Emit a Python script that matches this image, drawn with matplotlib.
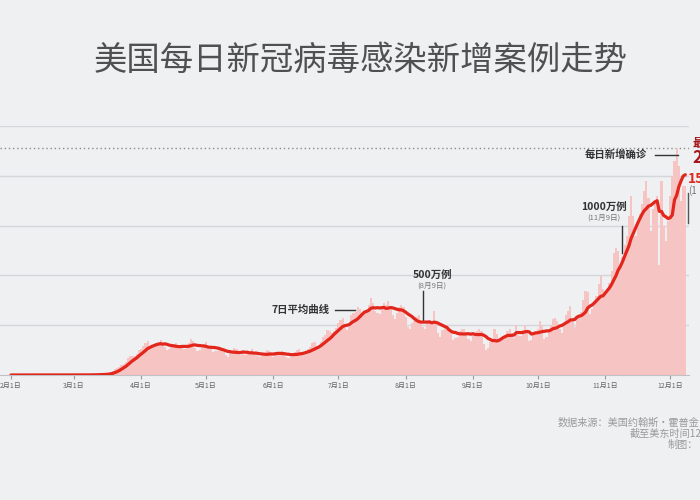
import numpy as np
import pandas as pd
import matplotlib
matplotlib.use("Agg")
import matplotlib.pyplot as plt

plt.rcParams['font.family'] = ['Noto Sans CJK SC', 'DejaVu Sans']

# ---- daily new cases (thousands), 2020-02-01 .. 2020-12-08 ----
feb = [0, 0, 0, 0, 0, 0, 0, 0, 0, 0, 0, 0, 0, 0, 0, 0, 0, 0, 0, 0,
       0, 0, 0, 0, 0, 0, 0, 0, 0]
mar = [0.01, 0.02, 0.02, 0.03, 0.07, 0.08, 0.1, 0.12, 0.2, 0.3, 0.4, 0.5, 0.6,
       0.7, 0.8, 1.0, 1.8, 2.8, 4.5, 6.0, 7.0, 8.5, 10.5, 11.0, 13.5, 17.5,
       19.0, 19.5, 19.0, 21.0, 25.0]
apr = [26, 29, 32, 34, 26, 29, 31, 32, 33, 35, 31, 28, 25, 26, 29, 31, 32, 29,
       27, 27, 26, 29, 32, 36, 34, 27, 24, 25, 27, 31]
may = [33, 29, 26, 23, 24, 24, 28, 27, 25, 20, 18, 22, 21, 27, 26, 24, 20, 22,
       20, 21, 23, 26, 22, 20, 19, 18, 19, 22, 25, 24, 21]
jun = [18, 21, 21, 22, 24, 23, 18, 17, 18, 21, 23, 25, 26, 20, 20, 23, 26, 28,
       32, 33, 28, 27, 33, 38, 40, 45, 44, 42, 44, 47]
jul = [52, 55, 57, 50, 45, 48, 60, 62, 63, 68, 66, 60, 63, 65, 70, 77, 72, 64,
       62, 61, 67, 72, 70, 74, 68, 60, 56, 62, 68, 70, 68]
aug = [58, 48, 46, 52, 54, 58, 60, 54, 48, 46, 52, 55, 52, 64, 53, 42, 38, 45,
       47, 46, 47, 42, 35, 37, 38, 44, 46, 46, 43, 36, 34]
sep = [41, 40, 44, 46, 44, 31, 25, 27, 33, 36, 46, 41, 35, 34, 38, 40, 44, 46,
       42, 37, 50, 40, 39, 45, 50, 45, 34, 35, 43, 44]
oct_ = [46, 54, 49, 36, 38, 43, 50, 56, 57, 54, 46, 42, 52, 60, 64, 69, 55, 48,
        58, 60, 63, 75, 84, 83, 61, 66, 74, 79, 91, 99, 86]
nov = [80, 85, 92, 104, 122, 128, 125, 106, 118, 131, 140, 160, 180, 160, 140,
       155, 162, 172, 185, 195, 178, 145, 167, 175, 180, 110, 195, 150, 135, 155]
dec = [180, 200, 215, 227.8, 210, 175, 190, 190]

daily = pd.Series(feb + mar + apr + may + jun + jul + aug + sep + oct_ + nov + dec)
avg7 = daily.rolling(7, min_periods=1).mean()
days = np.arange(len(daily))

month_days = [0, 29, 60, 90, 121, 151, 182, 213, 243, 274, 304]
month_labels = ['2月1日', '3月1日', '4月1日', '5月1日', '6月1日', '7月1日',
                '8月1日', '9月1日', '10月1日', '11月1日', '12月1日']
grid_levels = [50, 100, 150, 200, 250]
max_daily = 227.8

bg = '#eef0f2'
red = '#e2261b'

fig = plt.figure(figsize=(7, 5), dpi=100, facecolor=bg)
ax = fig.add_axes([0, 0.25, 689 / 700, 0.498])
ax.set_facecolor(bg)

for g in grid_levels:
    ax.axhline(g, color='#d4d6d9', lw=1, zorder=0)
ax.axhline(max_daily, color='#8a8a8a', lw=1, ls=(0, (1, 2)), zorder=0)

ax.bar(days, daily, width=1.0, color='#f7c4c4', edgecolor='none', zorder=1)
ax.plot(days, avg7, color=red, lw=2.3, zorder=3, solid_capstyle='round')

ax.set_xlim(-5.07, 312.7)
ax.set_ylim(0, 250)
for s in ['top', 'right', 'left']:
    ax.spines[s].set_visible(False)
ax.spines['bottom'].set_color('#bfc1c4')
ax.set_yticks([])
ax.set_xticks(month_days)
ax.set_xticklabels(month_labels, fontsize=5, color='#666666')
ax.tick_params(axis='x', length=3, width=0.8, color='#9a9a9a', pad=2)

# annotations
dark = '#333333'
ax.text(147.1, 65, '7日平均曲线', ha='right', va='center', fontsize=7.5,
        fontweight='bold', color=dark)
ax.plot([149.4, 158.7], [65, 65], color=dark, lw=1)

ax.text(194.2, 101, '500万例', ha='center', va='center', fontsize=7.5,
        fontweight='bold', color=dark)
ax.text(194.2, 89.5, '(8月9日)', ha='center', va='center', fontsize=5.5,
        color='#777777')
ax.plot([190, 190], [55, 84], color=dark, lw=1)

ax.text(273.5, 169, '1000万例', ha='center', va='center', fontsize=7.5,
        fontweight='bold', color=dark)
ax.text(273.5, 158, '(11月9日)', ha='center', va='center', fontsize=5.5,
        color='#777777')
ax.plot([282, 282], [122, 150], color=dark, lw=1)

ax.text(293.4, 221, '每日新增确诊', ha='right', va='center', fontsize=7.5,
        fontweight='bold', color=dark)
ax.plot([297, 307.7], [221, 221], color=dark, lw=1, clip_on=False)

# labels at the right edge are cut off by the frame, as in the source image
ax.text(314.4, 232, '最', ha='left', va='center', fontsize=8.5,
        fontweight='bold', color='#a3161a', clip_on=False)
ax.text(314.4, 218, '2', ha='left', va='center', fontsize=12,
        fontweight='bold', color='#a3161a', clip_on=False)
ax.text(312.2, 197, '15', ha='left', va='center', fontsize=10,
        fontweight='bold', color=red, clip_on=False)
ax.text(312.2, 185, '(1', ha='left', va='center', fontsize=7,
        color='#777777', clip_on=False)
ax.plot([312.3, 312.3], [153, 183], color='#555555', lw=1, clip_on=False)

fig.text(361 / 700, 1 - 60 / 500, '美国每日新冠病毒感染新增案例走势', ha='center',
         va='center', fontsize=24, fontweight='light', color='#505050')

foot = '#9a9a9a'
fig.text(558 / 700, 1 - 423 / 500, '数据来源：美国约翰斯·霍普金', ha='left',
         va='center', fontsize=7.3, color=foot)
fig.text(630 / 700, 1 - 434 / 500, '截至美东时间12', ha='left', va='center',
         fontsize=7.3, color=foot)
fig.text(668 / 700, 1 - 445 / 500, '制图：', ha='left', va='center',
         fontsize=7.3, color=foot)

fig.savefig('out.png', dpi=100, facecolor=bg)
